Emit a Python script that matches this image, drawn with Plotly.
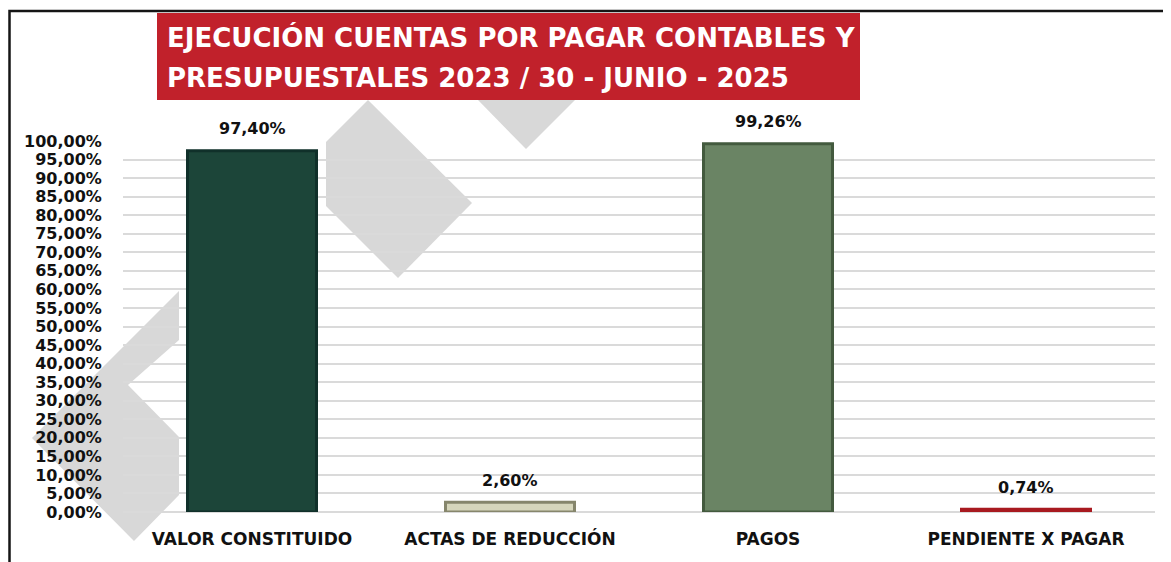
import plotly.graph_objects as go

# ---------------- data ----------------
categories = ["VALOR CONSTITUIDO", "ACTAS DE REDUCCIÓN", "PAGOS", "PENDIENTE X PAGAR"]
values = [97.40, 2.60, 99.26, 0.74]
bar_colors = ["#1C4539", "#D6D6BC", "#6A8464", "#CC2229"]
edge_colors = ["#10302A", "#86866C", "#435A3E", "#A81A20"]
title_lines = ["EJECUCIÓN CUENTAS POR PAGAR CONTABLES Y",
               "PRESUPUESTALES 2023 / 30 - JUNIO - 2025"]
y_ticks = list(range(0, 101, 5))
y_ticktext = [f"{t:.2f}%".replace(".", ",") for t in y_ticks]

# ---------------- layout geometry ----------------
W, H = 1171, 562
OFF = 8  # page body margin
PLOT_L, PLOT_R, PLOT_T, PLOT_B = 123, 1155, 141, 512  # in screenshot pixels
L = PLOT_L - OFF
T = PLOT_T - OFF
R = W - (PLOT_R - OFF)
B = H - (PLOT_B - OFF)
PW, PH = PLOT_R - PLOT_L, PLOT_B - PLOT_T
FONT = "DejaVu Sans"


def px(x):
    return (x - PLOT_L) / PW


def py(y):
    return (PLOT_B - y) / PH


def path(points):
    s = "M " + " L ".join(f"{px(x):.5f},{py(y):.5f}" for x, y in points)
    return s + " Z"


fig = go.Figure()
fig.add_trace(go.Bar(
    x=categories, y=values,
    marker=dict(color=bar_colors, line=dict(color=edge_colors, width=3)),
    width=0.5, hoverinfo="skip", showlegend=False,
))

# watermark (background logo fragments)
wm = "#D8D8D8"
watermark = [
    [(368, 100), (472, 203), (398, 278), (326, 206), (326, 142)],
    [(478, 100), (575, 100), (526, 149)],
    [(179, 291), (179, 340), (128, 385), (179, 437), (179, 495), (134, 541), (32, 438)],
]
shapes = []
for pts in watermark:
    shapes.append(dict(type="path", xref="paper", yref="paper", path=path(pts),
                       fillcolor=wm, line=dict(width=0), layer="below"))

# outer frame
shapes.append(dict(type="rect", xref="paper", yref="paper",
                   x0=px(9.5), x1=px(1250), y0=py(620), y1=py(11),
                   line=dict(color="#151515", width=2.5), fillcolor="rgba(0,0,0,0)",
                   layer="above"))
# title box
shapes.append(dict(type="rect", xref="paper", yref="paper",
                   x0=px(157), x1=px(860), y0=py(100), y1=py(13),
                   line=dict(width=0), fillcolor="#C1212B", layer="above"))

annotations = []
for line, yc in zip(title_lines, [38, 78]):
    annotations.append(dict(text=line, xref="paper", yref="paper",
                            x=px(165), y=py(yc), xanchor="left", yanchor="middle",
                            showarrow=False,
                            font=dict(family=FONT, size=26, color="white", weight=700)))

for c, v in zip(categories, values):
    annotations.append(dict(text=f"{v:.2f}%".replace(".", ","), x=c, y=v,
                            xref="x", yref="y", yshift=22, yanchor="middle",
                            showarrow=False,
                            font=dict(family=FONT, size=16, color="#111111", weight=700)))

fig.update_layout(
    width=W, height=H,
    margin=dict(l=L, r=R, t=T, b=B, autoexpand=False),
    paper_bgcolor="white", plot_bgcolor="rgba(0,0,0,0)",
    bargap=0.5,
    shapes=shapes, annotations=annotations,
    xaxis=dict(showgrid=False, showline=False, zeroline=False,
               ticks="outside", ticklen=12, tickcolor="rgba(0,0,0,0)",
               tickfont=dict(family=FONT, size=17, color="#111111", weight=700)),
    yaxis=dict(range=[0, 100], tickvals=y_ticks, ticktext=y_ticktext,
               showgrid=True, gridcolor="#DADADA", gridwidth=2,
               zeroline=True, zerolinecolor="#DADADA", zerolinewidth=2,
               showline=False, ticks="outside", ticklen=17,
               tickcolor="rgba(0,0,0,0)",
               tickfont=dict(family=FONT, size=16, color="#111111", weight=700)),
)

fig.write_html("out.html")
